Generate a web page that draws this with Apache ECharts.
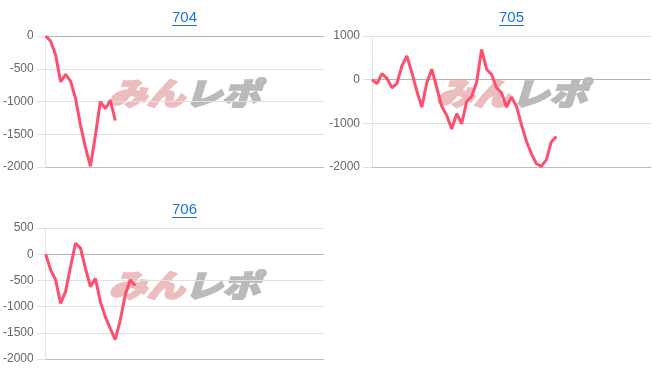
<!DOCTYPE html>
<html><head><meta charset="utf-8">
<script src="https://cdn.jsdelivr.net/npm/echarts@6/dist/echarts.min.js"></script>
<style>html,body{margin:0;padding:0;background:#fff}#c{width:652px;height:382px}</style>
</head><body><div id="c"></div>
<script>
const titles = ['704', '705', '706'];
const categoryCount = 57;
const categories = Array.from({length: categoryCount}, (_, i) => String(i + 1));
const data704 = [0, -80, -290, -700, -585, -690, -950, -1360, -1700, -1990, -1520, -1000, -1110, -980, -1290];
const data705 = [0, -90, 140, 30, -185, -90, 315, 545, 160, -260, -630, -70, 240, -185, -610, -820, -1130, -780, -1010, -500, -385, -60, 690, 240, 120, -185, -300, -630, -400, -610, -1030, -1410, -1700, -1925, -1985, -1830, -1420, -1300];
const data706 = [0, -300, -490, -940, -715, -240, 210, 115, -270, -620, -460, -910, -1195, -1420, -1630, -1260, -780, -490, -600];
const yAxes = [
  {min: -2000, max: 0, interval: 500},
  {min: -2000, max: 1000, interval: 1000},
  {min: -2000, max: 500, interval: 500}
];
const seriesData = [data704, data705, data706];

const grids = [
  {left: 45, top: 36, width: 279, height: 131},
  {left: 372, top: 36, width: 279, height: 131},
  {left: 45, top: 228, width: 279, height: 131}
];
const titleY = [10, 10, 202];

const chart = echarts.init(document.getElementById('c'));
const graphic = [];
grids.forEach((g, i) => {
  const cx = g.left + g.width / 2;
  graphic.push({
    type: 'text', z: -10, silent: true,
    x: cx, y: g.top + 57, scaleX: 1.22, originX: 0, originY: 0,
    style: {
      text: '{a|みん}{b|レポ}', textAlign: 'center', textVerticalAlign: 'middle',
      rich: {
        a: {fill: '#ecbcbe', stroke: '#ecbcbe', lineWidth: 2, fontSize: 31, fontWeight: 900, fontStyle: 'italic', fontFamily: '"Noto Sans CJK JP"'},
        b: {fill: '#bababa', stroke: '#bababa', lineWidth: 2, fontSize: 31, fontWeight: 900, fontStyle: 'italic', fontFamily: '"Noto Sans CJK JP"'}
      }
    }
  });
  graphic.push({
    type: 'text', z: 10, x: cx, y: titleY[i],
    style: {text: titles[i], textAlign: 'center', fill: '#1a73d9', fontSize: 15, fontFamily: 'Arial, "Liberation Sans"'}
  });
  graphic.push({
    type: 'rect', z: 10, shape: {x: cx - 12.5, y: titleY[i] + 15, width: 25, height: 1},
    style: {fill: '#1a73d9'}
  });
});

chart.setOption({
  animation: false,
  grid: grids,
  graphic: graphic,
  xAxis: grids.map((g, i) => ({
    type: 'category', gridIndex: i, data: categories, boundaryGap: false,
    axisLine: {onZero: false, lineStyle: {color: '#bdbdbd'}},
    axisTick: {show: false}, axisLabel: {show: false}, splitLine: {show: false}
  })),
  yAxis: yAxes.map((a, i) => ({
    type: 'value', gridIndex: i, min: a.min, max: a.max, interval: a.interval,
    axisLine: {show: true, lineStyle: {color: '#e6e6e6'}},
    axisTick: {show: true, length: 9, lineStyle: {color: '#e0e0e0'}},
    axisLabel: {color: '#666', fontSize: 12, margin: 12, fontFamily: 'Arial, "Liberation Sans"',
      formatter: v => String(v)},
    splitLine: {lineStyle: {color: '#e0e0e0'}}
  })),
  series: seriesData.map((d, i) => ({
    type: 'line', xAxisIndex: i, yAxisIndex: i, data: d, z: 5,
    showSymbol: false, symbol: 'none',
    lineStyle: {color: '#ff4f6f', width: 3},
    markLine: {
      silent: true, symbol: 'none', z: 1, label: {show: false},
      lineStyle: {color: '#b4b4b4', type: 'solid', width: 1},
      data: [{yAxis: 0}]
    }
  }))
});
</script></body></html>
